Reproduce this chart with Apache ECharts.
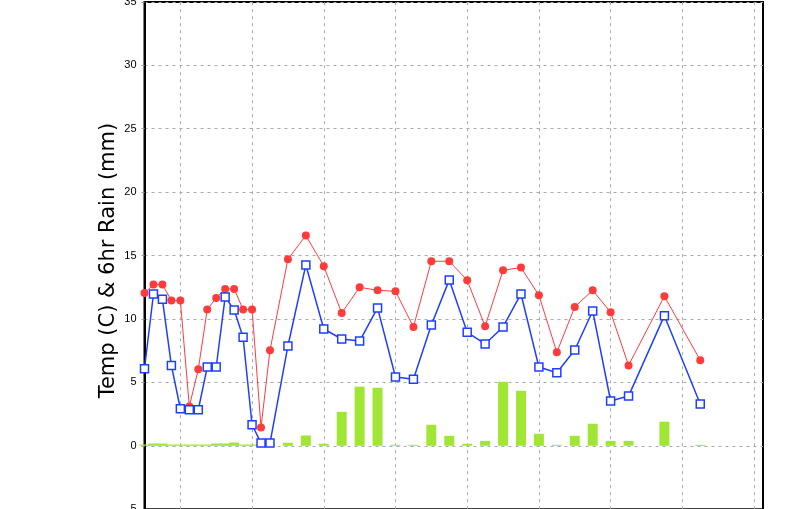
<!DOCTYPE html>
<html>
<head>
<meta charset="utf-8">
<script src="https://cdn.jsdelivr.net/npm/echarts@6/dist/echarts.min.js"></script>
<style>
html,body{margin:0;padding:0;background:#fff;}
#chart{width:800px;height:509px;}
</style>
</head>
<body>
<div id="chart"></div>
<script>
// hours from the first observation
const hours = [0,3,6,9,12,15,18,21,24,27,30,33,36,39,42,
  48,54,60,66,72,78,84,90,96,102,108,114,120,126,132,138,144,150,156,162,
  174,186];
const temp = [12.05,12.71,12.71,11.45,11.45,3.1,6.03,10.74,11.66,12.37,12.37,10.74,10.74,1.45,7.53,
  14.71,16.58,14.16,10.47,12.5,12.26,12.18,9.37,14.55,14.55,13.05,9.42,13.84,14.05,11.87,7.37,10.95,12.26,10.53,6.34,
  11.79,6.74];
const dewPoint = [6.08,11.97,11.55,6.34,2.92,2.84,2.84,6.21,6.21,11.74,10.71,8.55,1.66,0.21,0.21,
  7.87,14.26,9.21,8.42,8.26,10.87,5.42,5.24,9.53,13.08,8.95,8.03,9.37,11.97,6.21,5.76,7.55,10.63,3.53,3.92,
  10.26,3.29];
const rain = [0.1,0.18,0.18,0.1,0.1,0.1,0.1,0.1,0.18,0.18,0.26,0.1,0.1,0.1,0.1,
  0.24,0.81,0.16,2.68,4.66,4.58,0.08,0.08,1.66,0.79,0.16,0.39,5.05,4.34,0.95,0.08,0.79,1.74,0.39,0.39,
  1.9,0.08];
const gridHours = [12,36,60,84,108,132,156,180,204];
const yName = 'Temp (C) & 6hr Rain (mm)';

const pair = arr => hours.map((h,i) => [h, arr[i]]);
const gridStyle = {color:'#aaaaaa', width:1, type:[3,4]};

const chart = echarts.init(document.getElementById('chart'), null, {renderer:'canvas'});
chart.setOption({
  animation:false,
  backgroundColor:'#ffffff',
  grid:{left:144.5, right:37, top:1.9, bottom:-0.2, show:true, borderColor:'#000', borderWidth:2,
    backgroundColor:'transparent', containLabel:false, outerBoundsMode:'none'},
  xAxis:{type:'value', min:0, max:207,
    axisLine:{show:false}, axisTick:{show:false}, axisLabel:{show:false}, splitLine:{show:false}},
  yAxis:{type:'value', min:-5, max:35, interval:5,
    name:yName, nameLocation:'middle', nameGap:25, nameMoveOverlap:false,
    nameTextStyle:{fontSize:21, fontFamily:'DejaVu Sans', color:'#000', padding:[0,10,0,0]},
    axisLine:{show:true, lineStyle:{color:'#000', width:2}},
    axisTick:{show:true, length:3, lineStyle:{color:'#999'}},
    axisLabel:{fontSize:11, fontFamily:'Liberation Sans', color:'#000', margin:8},
    splitLine:{show:true, lineStyle:gridStyle}},
  series:[
    {type:'bar', name:'6hr Rain', data:pair(rain), barWidth:10,
      itemStyle:{color:'#a2e635'}, z:2,
      markLine:{silent:true, symbol:['none','none'], label:{show:false}, z:1,
        lineStyle:gridStyle, data:gridHours.map(h => ({xAxis:h}))}},
    {type:'line', name:'Temp', data:pair(temp), symbol:'circle', symbolSize:8,
      lineStyle:{color:'#ff3b3b', width:1}, itemStyle:{color:'#ff3b3b'}, z:3},
    {type:'line', name:'Dew Point', data:pair(dewPoint), symbol:'rect', symbolSize:8,
      lineStyle:{color:'#1f3fff', width:1.5}, itemStyle:{color:'#ffffff', borderColor:'#1f3fff', borderWidth:1.5}, z:4}
  ]
});
</script>
</body>
</html>
